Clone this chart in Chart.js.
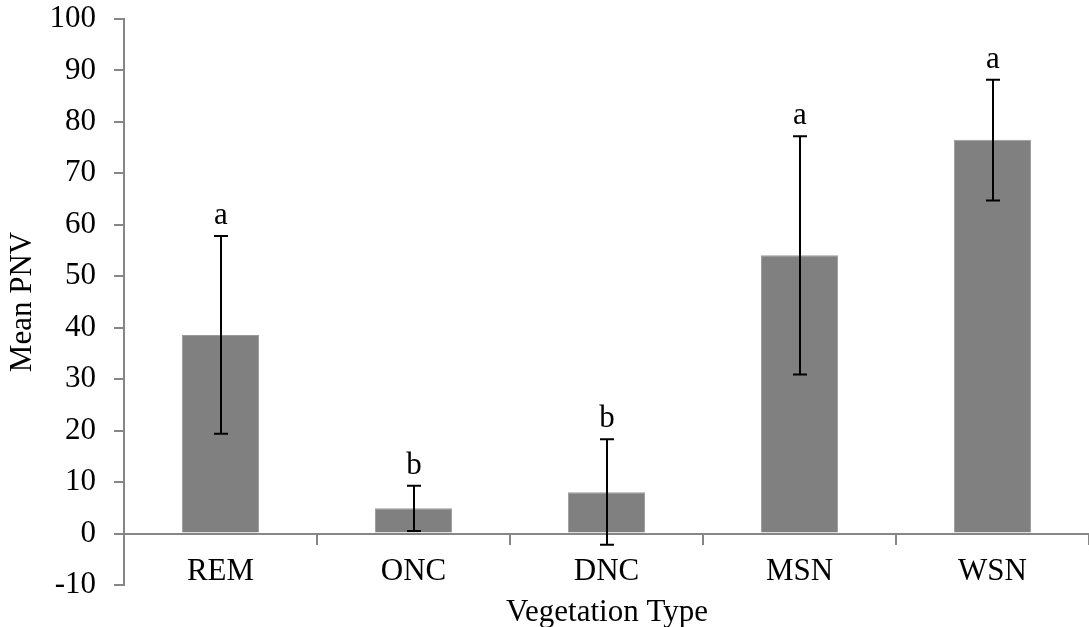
<!DOCTYPE html>
<html>
<head>
<meta charset="utf-8">
<script src="https://cdn.jsdelivr.net/npm/chart.js@4"></script>
<style>
  html, body { margin: 0; padding: 0; background: #fff; }
  #wrap { width: 1089px; height: 627px; position: relative; }
</style>
</head>
<body>
<div id="wrap"><canvas id="chart"></canvas></div>
<script>
const categories = ['REM', 'ONC', 'DNC', 'MSN', 'WSN'];
const meanPNV = [38.6, 4.9, 8.0, 54.1, 76.5];
const errLow = [19.4, 0.5, -2.2, 30.9, 64.7];
const errHigh = [57.8, 9.3, 18.3, 77.2, 88.2];
const groupLetters = ['a', 'b', 'b', 'a', 'a'];

const FONT = "'Liberation Serif', 'Times New Roman', serif";
const FONT_SIZE = 31;
const AXIS_GREY = '#868686';

// error bars + significance letters
const errorBars = {
  id: 'errorBars',
  afterDatasetsDraw(chart) {
    const { ctx, scales: { y } } = chart;
    const meta = chart.getDatasetMeta(0);
    ctx.save();
    ctx.strokeStyle = '#000';
    ctx.lineWidth = 2;
    ctx.fillStyle = '#000';
    ctx.font = FONT_SIZE + 'px ' + FONT;
    ctx.textAlign = 'center';
    ctx.textBaseline = 'alphabetic';
    meta.data.forEach((bar, i) => {
      const x = Math.round(bar.x);
      const top = y.getPixelForValue(errHigh[i]);
      const bot = y.getPixelForValue(errLow[i]);
      ctx.beginPath();
      ctx.moveTo(x, top); ctx.lineTo(x, bot);
      ctx.moveTo(x - 7, top); ctx.lineTo(x + 7, top);
      ctx.moveTo(x - 7, bot); ctx.lineTo(x + 7, bot);
      ctx.stroke();
      ctx.fillText(groupLetters[i], x, top - 12);
    });
    ctx.restore();
  }
};

// x axis title sits below the -10 line
const xTitle = {
  id: 'xTitle',
  afterDraw(chart) {
    const { ctx } = chart;
    ctx.save();
    ctx.fillStyle = '#000';
    ctx.font = FONT_SIZE + 'px ' + FONT;
    ctx.textAlign = 'center';
    ctx.textBaseline = 'alphabetic';
    ctx.fillText('Vegetation Type', 607, 621);
    ctx.restore();
  }
};

new Chart(document.getElementById('chart'), {
  type: 'bar',
  data: {
    labels: categories,
    datasets: [{
      data: meanPNV,
      backgroundColor: '#808080',
      borderColor: '#9a9a9a',
      borderWidth: 1,
      categoryPercentage: 1,
      barPercentage: 0.4,
    }],
  },
  options: {
    responsive: true,
    maintainAspectRatio: false,
    animation: false,
    layout: { padding: { top: 0, right: -5, bottom: 42, left: 0 } },
    plugins: {
      legend: { display: false },
      tooltip: { enabled: false },
    },
    scales: {
      x: {
        position: { y: 0 },
        grid: {
          offset: true,
          drawOnChartArea: false,
          color: AXIS_GREY,
          tickLength: 10,
          lineWidth: 2,
        },
        border: { color: AXIS_GREY, width: 2 },
        ticks: { color: '#000', font: { family: FONT, size: FONT_SIZE }, padding: 10 },
      },
      y: {
        min: -10,
        max: 100,
        afterFit(scale) { scale.width = 124; },
        ticks: {
          stepSize: 10,
          color: '#000',
          // small lineHeight keeps the label overhang from pushing the plot down
          font: { family: FONT, size: FONT_SIZE, lineHeight: 0.06 },
          padding: 18,
        },
        grid: { drawOnChartArea: false, color: AXIS_GREY, tickLength: 10, lineWidth: 2 },
        border: { color: AXIS_GREY, width: 2 },
        title: {
          display: true,
          text: 'Mean PNV',
          color: '#000',
          font: { family: FONT, size: FONT_SIZE },
          padding: { top: 4, bottom: 14 },
        },
      },
    },
  },
  plugins: [errorBars, xTitle],
});
</script>
</body>
</html>
